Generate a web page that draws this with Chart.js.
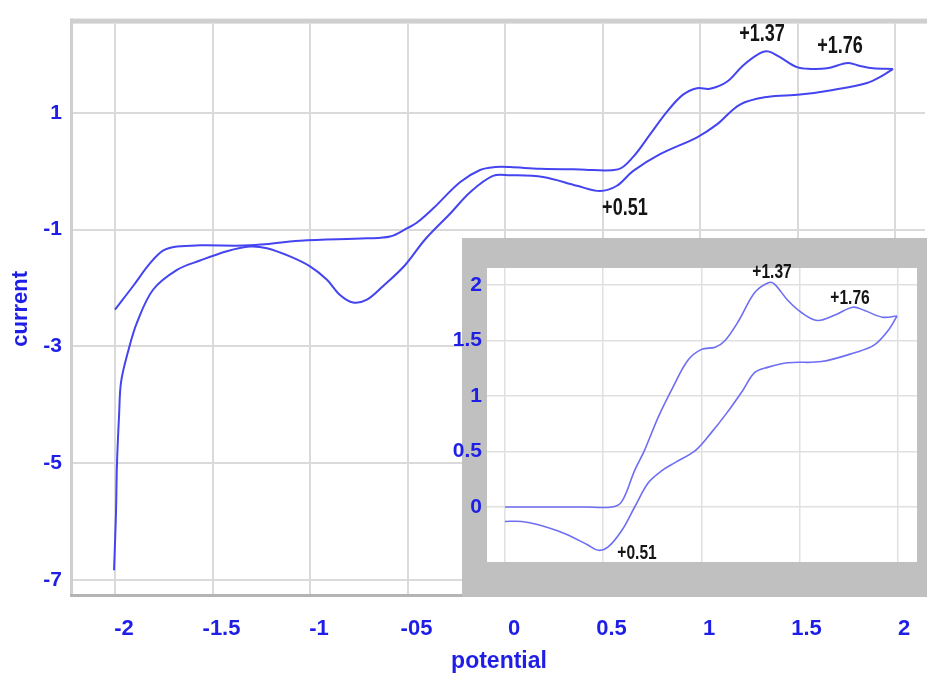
<!DOCTYPE html>
<html><head><meta charset="utf-8">
<script src="https://cdn.jsdelivr.net/npm/chart.js@4"></script>
<style>
html,body{margin:0;padding:0;background:#fff;}
#wrap{position:relative;width:927px;height:675px;overflow:hidden;background:#fff;}
#main{position:absolute;left:0;top:0;}
#inset{position:absolute;left:440px;top:238px;}
</style></head><body>
<div id="wrap"><canvas id="main" width="927" height="675"></canvas><canvas id="inset" width="487" height="359"></canvas></div>
<script>
// ---- main voltammogram: forward scan (upper branch) ----
const fwdPotential = [-2.000,-1.908,-1.821,-1.754,-1.682,-1.564,-1.308,-1.051,-0.708,-0.590,-0.503,-0.451,-0.369,-0.231,-0.128,-0.051,0.026,0.179,0.385,0.579,0.656,0.744,0.831,0.913,0.985,1.051,1.138,1.221,1.308,1.349,1.410,1.497,1.564,1.651,1.759,1.821,1.887,1.990];
const fwdCurrent   = [-2.37,-1.97,-1.58,-1.36,-1.29,-1.27,-1.27,-1.19,-1.15,-1.12,-0.98,-0.88,-0.64,-0.19,0.02,0.07,0.07,0.04,0.03,0.03,0.24,0.63,1.02,1.31,1.42,1.41,1.53,1.81,2.02,2.05,1.95,1.78,1.75,1.76,1.85,1.80,1.76,1.75];
// ---- main voltammogram: reverse scan (lower branch) ----
const revPotential = [1.990,1.938,1.856,1.682,1.513,1.344,1.205,1.087,0.985,0.795,0.656,0.574,0.487,0.369,0.195,0.026,-0.062,-0.179,-0.282,-0.410,-0.513,-0.626,-0.708,-0.779,-0.846,-0.913,-1.000,-1.103,-1.221,-1.308,-1.426,-1.564,-1.682,-1.805,-1.887,-1.934,-1.969,-1.979,-1.990,-1.995,-2.005];
const revCurrent   = [1.75,1.64,1.51,1.39,1.31,1.27,1.14,0.80,0.58,0.29,0.00,-0.25,-0.34,-0.25,-0.10,-0.07,-0.08,-0.36,-0.73,-1.17,-1.61,-1.97,-2.20,-2.25,-2.12,-1.86,-1.63,-1.46,-1.32,-1.29,-1.37,-1.53,-1.69,-2.03,-2.59,-3.10,-3.61,-4.17,-5.02,-5.86,-6.83];

// ---- inset (zoom 0..2 V) ----
const insetFwdPotential = [0,0.2,0.4,0.545,0.595,0.66,0.71,0.78,0.855,0.93,1.00,1.07,1.12,1.19,1.27,1.34,1.37,1.44,1.51,1.59,1.68,1.77,1.83,1.92,1.995];
const insetFwdCurrent   = [0,0,0,0,0.05,0.33,0.51,0.81,1.08,1.32,1.42,1.44,1.50,1.68,1.93,2.02,2.01,1.86,1.75,1.68,1.73,1.80,1.77,1.71,1.72];
const insetRevPotential = [1.995,1.95,1.88,1.78,1.61,1.44,1.34,1.27,1.21,1.13,1.05,0.97,0.865,0.80,0.73,0.66,0.595,0.525,0.475,0.42,0.305,0.17,0.085,0];
const insetRevCurrent   = [1.72,1.59,1.46,1.39,1.31,1.30,1.26,1.21,1.05,0.85,0.67,0.51,0.40,0.33,0.22,0.0,-0.21,-0.36,-0.39,-0.34,-0.24,-0.16,-0.13,-0.13];

// ---- ticks ----
const xTickValues = [-2,-1.5,-1,-0.5,0,0.5,1,1.5,2];
const xTickLabels = ['-2','-1.5','-1','-05','0','0.5','1','1.5','2'];
const yTickValues = [1,-1,-3,-5,-7];
const yTickLabels = ['1','-1','-3','-5','-7'];
const insetXTickValues = [0,0.5,1,1.5,2];
const insetYTickValues = [0,0.5,1,1.5,2];
const insetYTickLabels = ['0','0.5','1','1.5','2'];

// ---- peak annotations (text anchored in data units) ----
const peakLabels  = ['+1.37','+1.76','+0.51'];
const peakLabelX  = [1.318,1.718,0.615];
const peakLabelY  = [2.339,2.136,-0.644];
const insetPeakLabelX = [1.359,1.756,0.672];
const insetPeakLabelY = [2.117,1.883,-0.414];

const BLUE = '#1e1ee6';
const FONT = "'Liberation Sans', Arial, sans-serif";

function pts(xs, ys){ return xs.map((x,i)=>({x:x, y:ys[i]})); }
function setTicks(vals){ return s => { s.ticks = vals.map(v=>({value:v})); }; }

function annotate(xs, ys, size){
  return {
    id:'peakText',
    afterDraw(chart){
      const c = chart.ctx, sx = chart.scales.x, sy = chart.scales.y;
      c.save();
      c.fillStyle = '#151515';
      c.font = 'bold ' + size + 'px ' + FONT;
      c.textAlign = 'center'; c.textBaseline = 'middle';
      peakLabels.forEach((t,i)=>{
        const px = sx.getPixelForValue(xs[i]), py = sy.getPixelForValue(ys[i]);
        c.save(); c.translate(px, py); c.scale(0.82, 1.08);
        c.fillText(t, 0, 0);
        c.restore();
      });
      c.restore();
    }
  };
}

const mainFrame = {
  id:'mainFrame',
  afterDraw(chart){
    const c = chart.ctx, a = chart.chartArea;
    c.save();
    c.fillStyle = '#cfcfcf';
    c.fillRect(a.left-3, a.top-5, a.right-a.left+5, 5);
    c.fillRect(a.left-3, a.top-5, 3, a.bottom-a.top+8);
    c.fillStyle = '#b4b4b4';
    c.fillRect(a.left-3, a.bottom, a.right-a.left+5, 3);
    c.restore();
  }
};

new Chart(document.getElementById('main'), {
  type:'scatter',
  data:{ datasets:[
    {data:pts(fwdPotential,fwdCurrent), showLine:true, borderColor:'#4444f0', borderWidth:2, pointRadius:0, tension:0.35, fill:false},
    {data:pts(revPotential,revCurrent), showLine:true, borderColor:'#4444f0', borderWidth:2, pointRadius:0, tension:0.35, fill:false}
  ]},
  options:{
    responsive:false, animation:false, events:[],
    layout:{padding:{top:18,right:2,left:0,bottom:0}},
    plugins:{legend:{display:false}, tooltip:{enabled:false}},
    scales:{
      x:{type:'linear', min:-2.2154, max:2.1538,
        afterBuildTicks:setTicks(xTickValues), afterFit:s=>{s.height=81;},
        grid:{color:'#dadada', lineWidth:2, drawTicks:false}, border:{display:false},
        ticks:{color:BLUE, font:{family:FONT, weight:'bold', size:22}, padding:22, labelOffset:9, autoSkip:false, maxRotation:0,
          callback:v=>xTickLabels[xTickValues.indexOf(v)]},
        title:{display:true, text:'potential', color:BLUE, font:{family:FONT, weight:'bold', size:23}, padding:0}
      },
      y:{type:'linear', min:-7.2373, max:2.5254,
        afterBuildTicks:setTicks(yTickValues), afterFit:s=>{s.width=73;},
        grid:{color:'#dadada', lineWidth:2, drawTicks:false}, border:{display:false},
        ticks:{color:BLUE, font:{family:FONT, weight:'bold', size:21}, padding:11, autoSkip:false,
          callback:v=>yTickLabels[yTickValues.indexOf(v)]},
        title:{display:true, text:'current', color:BLUE, font:{family:FONT, weight:'bold', size:22}, padding:{top:8,bottom:0}}
      }
    }
  },
  plugins:[mainFrame, annotate(peakLabelX, peakLabelY, 22)]
});

const insetFrame = {
  id:'insetFrame',
  beforeDraw(chart){
    const c = chart.ctx, a = chart.chartArea;
    c.save();
    c.fillStyle = '#c0c0c0';
    c.fillRect(22, 0, chart.width-22, chart.height);
    c.fillStyle = '#ffffff';
    c.fillRect(a.left, a.top, a.right-a.left, a.bottom-a.top);
    c.restore();
  }
};

new Chart(document.getElementById('inset'), {
  type:'scatter',
  data:{ datasets:[
    {data:pts(insetFwdPotential,insetFwdCurrent), showLine:true, borderColor:'#6e6ef4', borderWidth:1.6, pointRadius:0, tension:0.35, fill:false},
    {data:pts(insetRevPotential,insetRevCurrent), showLine:true, borderColor:'#6e6ef4', borderWidth:1.6, pointRadius:0, tension:0.35, fill:false}
  ]},
  options:{
    responsive:false, animation:false, events:[],
    layout:{padding:{top:30,right:10,left:0,bottom:0}},
    plugins:{legend:{display:false}, tooltip:{enabled:false}},
    scales:{
      x:{type:'linear', min:-0.0916, max:2.0967,
        afterBuildTicks:setTicks(insetXTickValues), afterFit:s=>{s.height=35;},
        grid:{color:'#e0e0e0', lineWidth:1.5, drawTicks:false}, border:{display:false},
        ticks:{display:false}
      },
      y:{type:'linear', min:-0.4955, max:2.153,
        afterBuildTicks:setTicks(insetYTickValues), afterFit:s=>{s.width=47;},
        grid:{color:'#e0e0e0', lineWidth:1.5, drawTicks:false}, border:{display:false},
        ticks:{color:BLUE, font:{family:FONT, weight:'bold', size:21}, padding:5, autoSkip:false,
          callback:v=>insetYTickLabels[insetYTickValues.indexOf(v)]}
      }
    }
  },
  plugins:[insetFrame, annotate(insetPeakLabelX, insetPeakLabelY, 19)]
});
</script>
</body></html>
